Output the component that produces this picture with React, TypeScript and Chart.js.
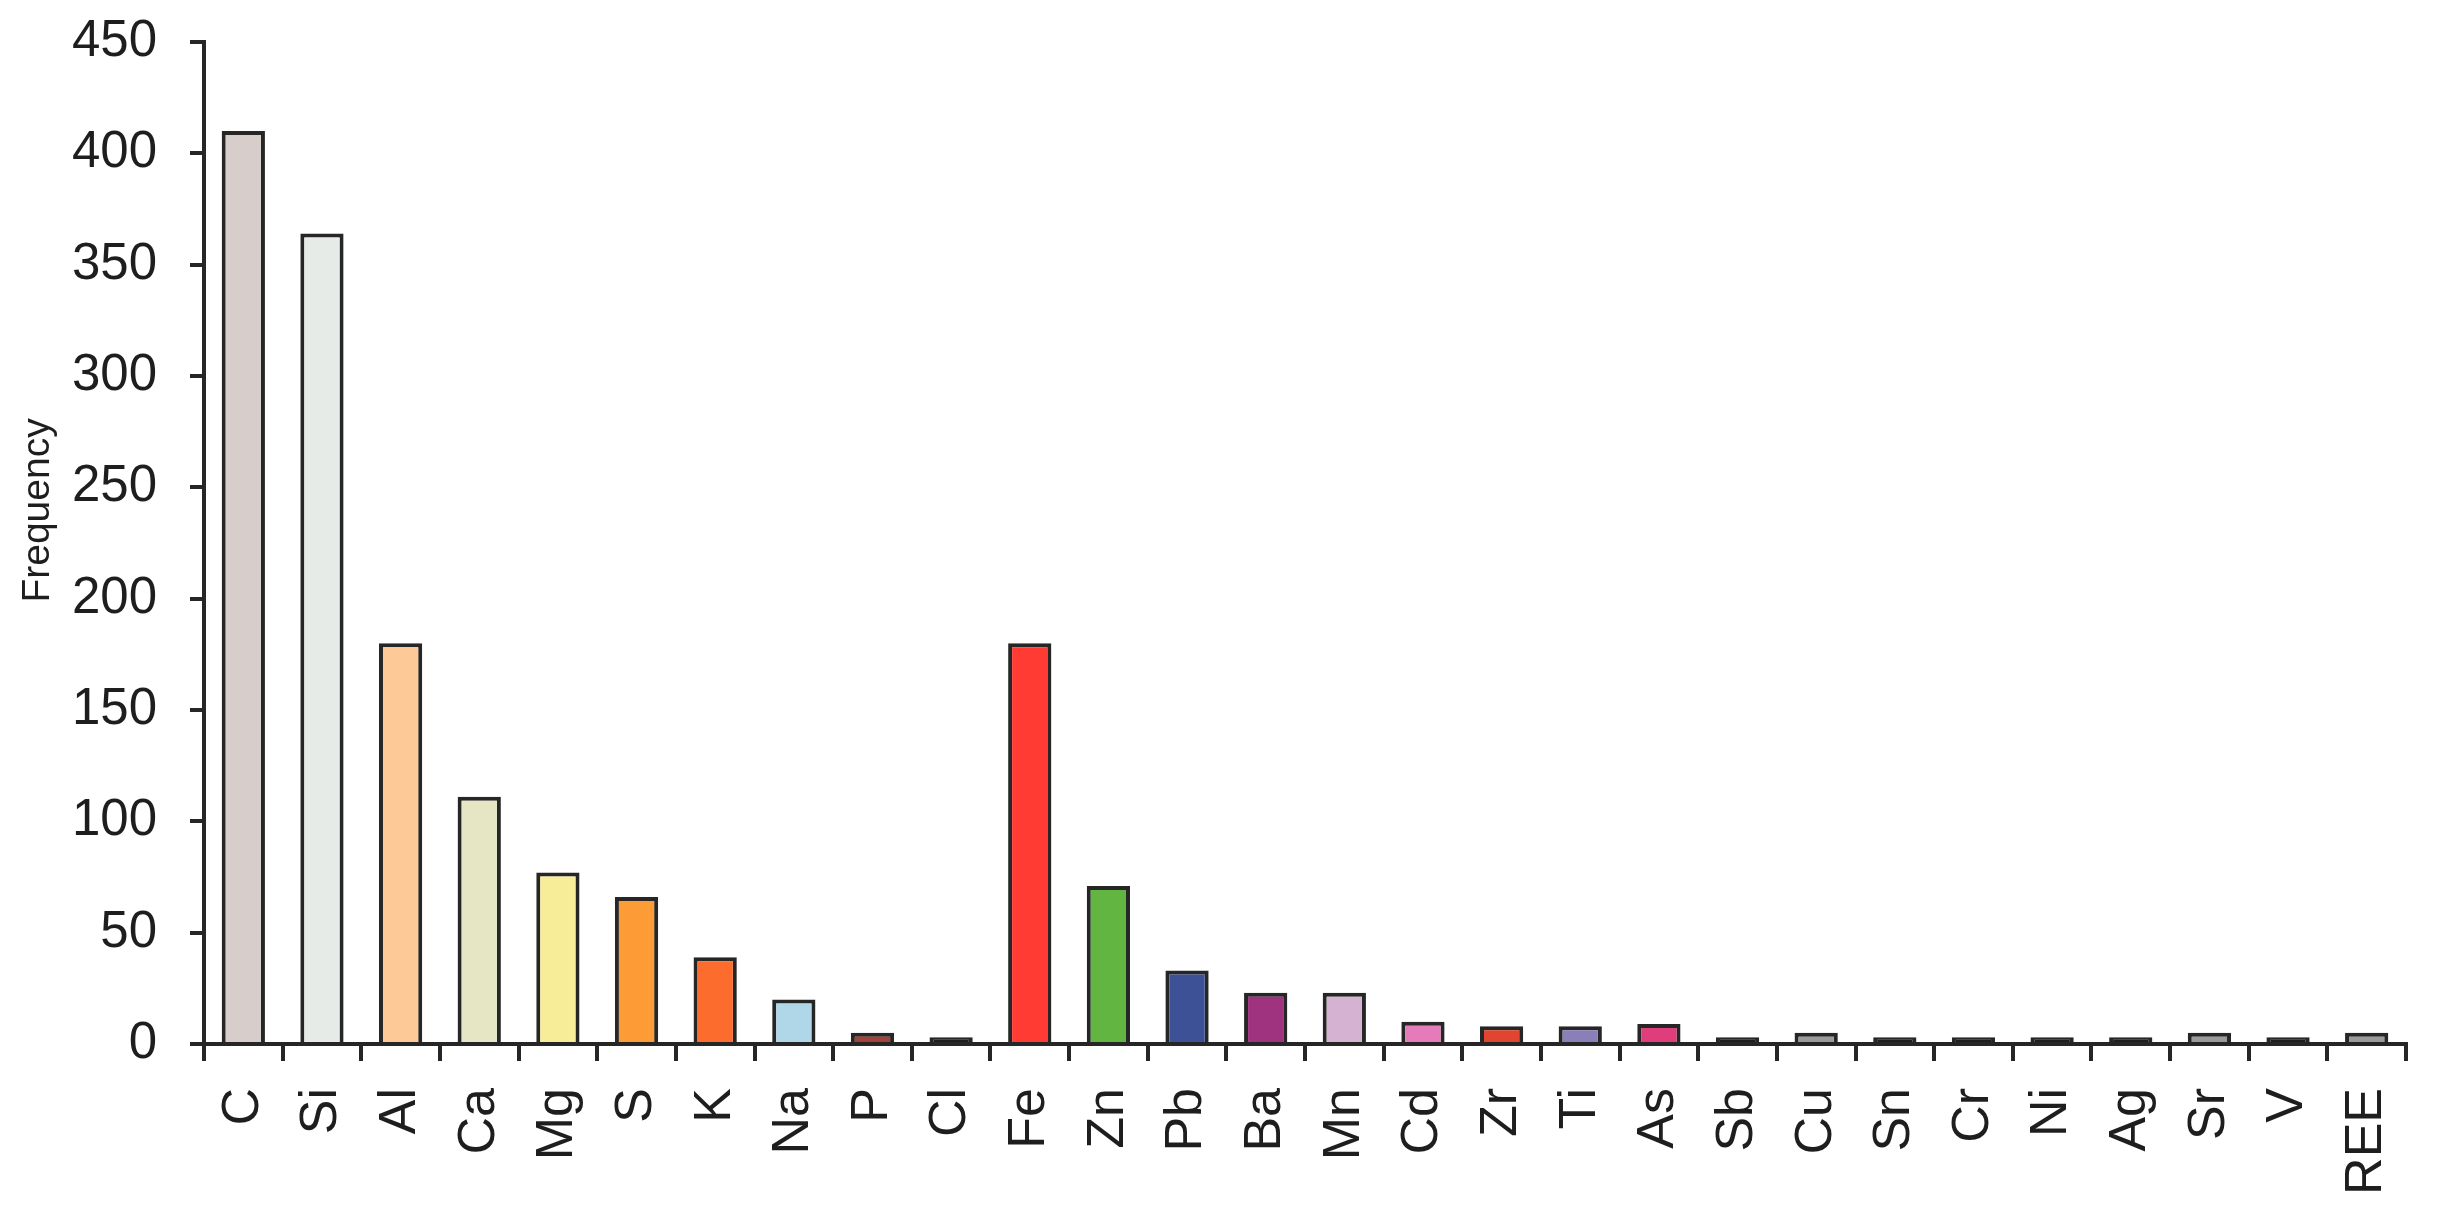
import { useEffect, useRef } from 'react';
import { Chart, registerables } from 'chart.js';

Chart.register(...registerables);

const elements = ['C', 'Si', 'Al', 'Ca', 'Mg', 'S', 'K', 'Na', 'P', 'Cl', 'Fe', 'Zn', 'Pb', 'Ba', 'Mn', 'Cd', 'Zr', 'Ti', 'As', 'Sb', 'Cu', 'Sn', 'Cr', 'Ni', 'Ag', 'Sr', 'V', 'REE'];
const frequencies = [410, 364, 180, 111, 77, 66, 39, 20, 5, 3, 180, 71, 33, 23, 23, 10, 8, 8, 9, 3, 5, 3, 3, 3, 3, 5, 3, 5];
const barColors = [
  '#d7cdcb', '#e6ebe7', '#fdca97', '#e6e6c4', '#f7ed99', '#fd9b36', '#fc6c2d', '#b0d7e8', '#a3423a', '#1e1e1e',
  '#ff3b33', '#62b540', '#3d5197', '#a0337f', '#d5b2d2', '#e57bb9', '#df452f', '#8a7fb7', '#e03d7d', '#1e1e1e',
  '#9a9a9a', '#1e1e1e', '#1e1e1e', '#1e1e1e', '#1e1e1e', '#9a9a9a', '#1e1e1e', '#9a9a9a'
];
const yMin = 0;
const yMax = 450;
const yStep = 50;
const yTitle = 'Frequency';

const FONT = "'Liberation Sans', Arial, Helvetica, sans-serif";
const INK = '#262626';

export default function App() {
  const ref = useRef<HTMLCanvasElement | null>(null);

  useEffect(() => {
    if (!ref.current) return;
    const chart = new Chart(ref.current, {
      type: 'bar',
      data: {
        labels: elements,
        datasets: [
          {
            data: frequencies,
            backgroundColor: barColors,
            borderColor: INK,
            borderWidth: 4,
            borderSkipped: 'start',
            categoryPercentage: 1,
            barPercentage: 0.55,
          },
        ],
      },
      options: {
        responsive: false,
        animation: false,
        layout: { padding: { top: 34, right: 23, left: 0, bottom: 0 } },
        plugins: { legend: { display: false }, tooltip: { enabled: false } },
        scales: {
          x: {
            afterFit: (s: any) => {
              s.height = 174;
              s.paddingLeft = 0;
              s.paddingRight = 0;
            },
            grid: { offset: true, drawOnChartArea: false, drawTicks: true, tickLength: 17, lineWidth: 4, color: INK },
            border: { display: true, color: INK, width: 4 },
            ticks: {
              autoSkip: false,
              maxRotation: 90,
              minRotation: 90,
              padding: 27,
              color: '#1e1e1e',
              font: { family: FONT, size: 52 },
            },
          },
          y: {
            min: yMin,
            max: yMax,
            afterFit: (s: any) => {
              s.width = 196;
              s.paddingTop = 0;
              s.paddingBottom = 0;
            },
            grid: { drawOnChartArea: false, drawTicks: true, tickLength: 14, lineWidth: 4, color: INK },
            border: { display: true, color: INK, width: 4 },
            ticks: {
              stepSize: yStep,
              padding: 33,
              color: '#1e1e1e',
              font: { family: FONT, size: 51 },
            },
            title: {
              display: true,
              text: '      ' + yTitle,
              color: '#1e1e1e',
              padding: { top: 7, bottom: 0 },
              font: { family: FONT, size: 39 },
            },
          },
        },
      },
    });
    return () => chart.destroy();
  }, []);

  return (
    <div style={{ width: 2421, height: 1210 }}>
      <canvas ref={ref} width={2421} height={1210} style={{ display: 'block' }} />
    </div>
  );
}
